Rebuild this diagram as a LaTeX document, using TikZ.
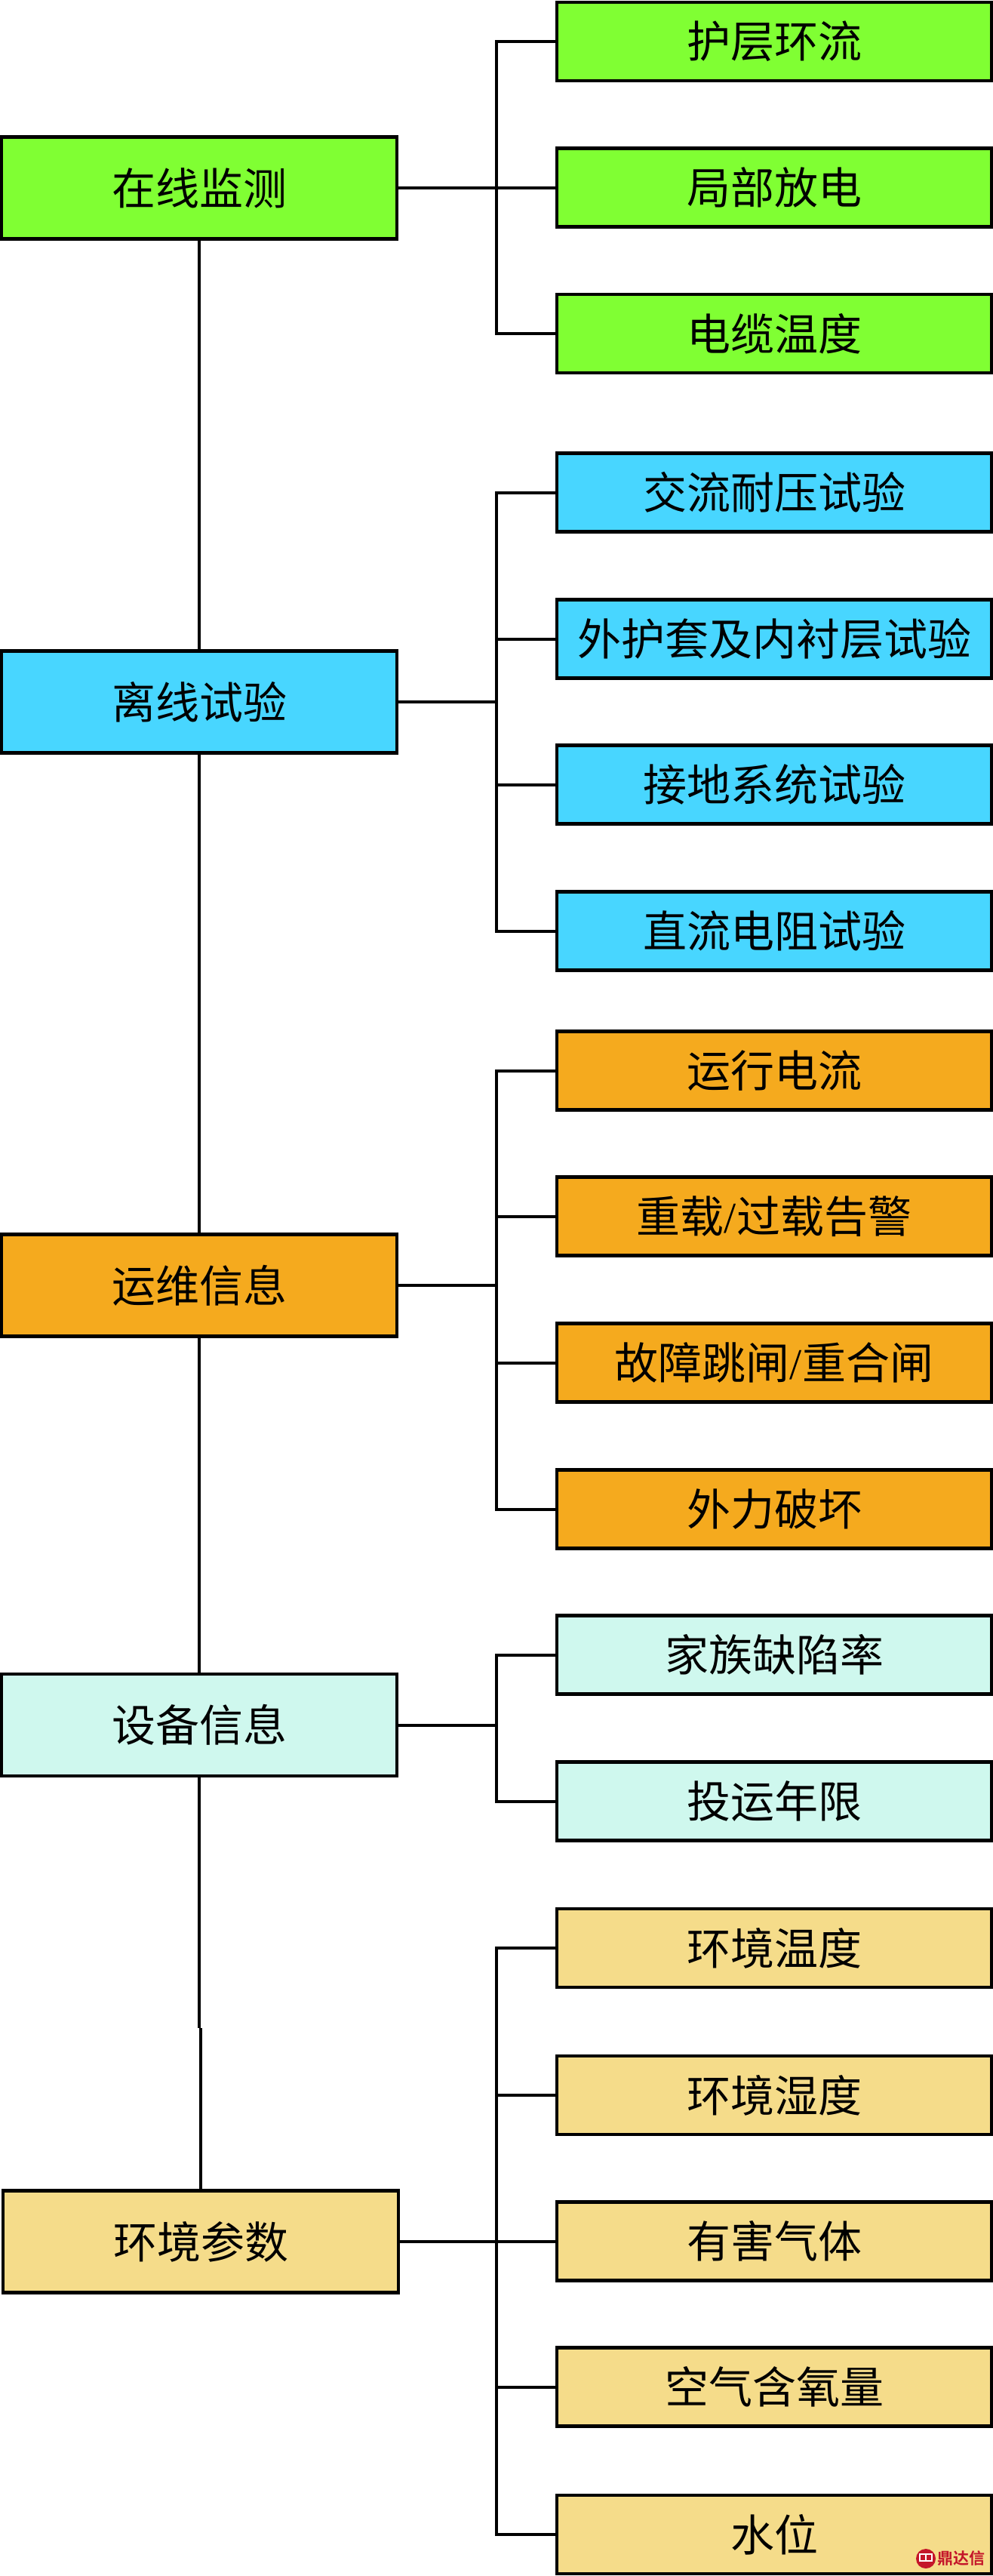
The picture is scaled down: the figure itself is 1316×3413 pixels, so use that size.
\documentclass[tikz,border=0pt]{standalone}
\usepackage{fontspec}
\setmainfont{Noto Sans CJK SC}[UprightFont=*,BoldFont=* Bold]
\newfontfamily\latfont{Liberation Serif}
\definecolor{cgreen}{HTML}{80FF33}
\definecolor{cblue}{HTML}{48D6FF}
\definecolor{corange}{HTML}{F5AA1E}
\definecolor{cmint}{HTML}{CFF8EE}
\definecolor{csand}{HTML}{F5DC8A}
\definecolor{cmark}{HTML}{C4162A}
\tikzset{
  anybox/.style={draw=black,line width=4.5pt,rectangle,inner sep=0pt,outer sep=0pt,text=black,font=\fontsize{58}{58}\selectfont},
  leftbox/.style={anybox,minimum width=524pt,minimum height=135pt},
  rightbox/.style={anybox,minimum width=576pt,minimum height=104pt},
  link/.style={draw=black,line width=4pt},
}
\begin{document}
\begin{tikzpicture}[x=1pt,y=-1pt]
\useasboundingbox (0,0) rectangle (1316,3413);
% left column
\node[leftbox,fill=cgreen]  (L1) at (264,249)  {在线监测};
\node[leftbox,fill=cblue]   (L2) at (264,930)  {离线试验};
\node[leftbox,fill=corange] (L3) at (264,1703) {运维信息};
\node[leftbox,fill=cmint]   (L4) at (264,2285.5)   {设备信息};
\node[leftbox,fill=csand]   (L5) at (266,2970) {环境参数};
% right column
\node[rightbox,fill=cgreen]  (R1)  at (1026,55)     {护层环流};
\node[rightbox,fill=cgreen]  (R2)  at (1026,248.5)  {局部放电};
\node[rightbox,fill=cgreen]  (R3)  at (1026,442)    {电缆温度};
\node[rightbox,fill=cblue]   (R4)  at (1026,652.5)  {交流耐压试验};
\node[rightbox,fill=cblue]   (R5)  at (1026,846.5)  {外护套及内衬层试验};
\node[rightbox,fill=cblue]   (R6)  at (1026,1039.5) {接地系统试验};
\node[rightbox,fill=cblue]   (R7)  at (1026,1233.5) {直流电阻试验};
\node[rightbox,fill=corange] (R8)  at (1026,1418.5) {运行电流};
\node[rightbox,fill=corange] (R9)  at (1026,1611.5) {重载{\latfont /}过载告警};
\node[rightbox,fill=corange] (R10) at (1026,1805.5) {故障跳闸{\latfont /}重合闸};
\node[rightbox,fill=corange] (R11) at (1026,1999.5) {外力破坏};
\node[rightbox,fill=cmint]   (R12) at (1026,2192.5) {家族缺陷率};
\node[rightbox,fill=cmint]   (R13) at (1026,2386.5) {投运年限};
\node[rightbox,fill=csand]   (R14) at (1026,2581)   {环境温度};
\node[rightbox,fill=csand]   (R15) at (1026,2776)   {环境湿度};
\node[rightbox,fill=csand]   (R16) at (1026,2969.5) {有害气体};
\node[rightbox,fill=csand]   (R17) at (1026,3162.5) {空气含氧量};
\node[rightbox,fill=csand]   (R18) at (1026,3358)   {水位};
% hubs
\coordinate (H1) at (658,249);
\coordinate (H2) at (658,930);
\coordinate (H3) at (658,1703);
\coordinate (H4) at (658,2285.5);
\coordinate (H5) at (658,2970);
\coordinate (J1) at (264,2687);
\coordinate (J2) at (266,2687);
% trunk
\draw[link] (L1.south) -- (L2.north);
\draw[link] (L2.south) -- (L3.north);
\draw[link] (L3.south) -- (L4.north);
\draw[link] (L4.south) -- (J1);
\draw[link] (J2) -- (L5.north);
% branches
\draw[link] (L1.east) -- (H1);
\foreach \r in {R1,R2,R3} \draw[link] (\r.west) -| (H1);
\draw[link] (L2.east) -- (H2);
\foreach \r in {R4,R5,R6,R7} \draw[link] (\r.west) -| (H2);
\draw[link] (L3.east) -- (H3);
\foreach \r in {R8,R9,R10,R11} \draw[link] (\r.west) -| (H3);
\draw[link] (L4.east) -- (H4);
\foreach \r in {R12,R13} \draw[link] (\r.west) -| (H4);
\draw[link] (L5.east) -- (H5);
\foreach \r in {R14,R15,R16,R17,R18} \draw[link] (\r.west) -| (H5);
% watermark
\fill[cmark] (1227,3390) circle[radius=13pt];
\draw[white,line width=1.5pt] (1219,3384) rectangle (1235,3393);
\draw[white,line width=1.5pt] (1227,3384) -- (1227,3393);
\node[inner sep=0pt,text=cmark,font=\fontsize{21}{21}\selectfont\bfseries] (W) at (1274,3390) {鼎达信};
\end{tikzpicture}
\end{document}
